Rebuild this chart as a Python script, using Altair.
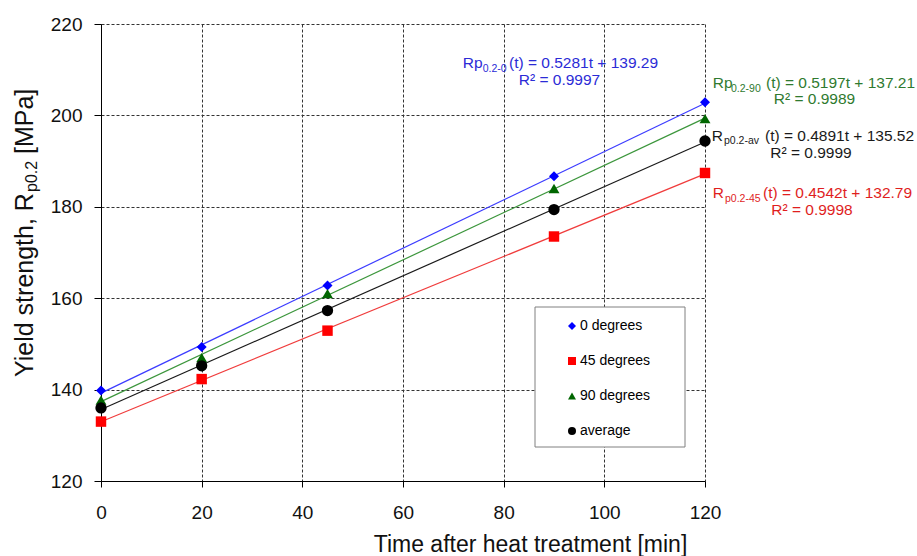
import altair as alt
import pandas as pd

# ---------------- data ----------------
times = [0, 20, 45, 90, 120]
series_names = ["0 degrees", "45 degrees", "90 degrees", "average"]
rp_0deg = [139.8, 149.3, 162.8, 186.7, 202.9]
rp_45deg = [133.0, 142.3, 152.9, 173.5, 187.4]
rp_90deg = [137.7, 147.0, 161.0, 184.0, 199.3]
rp_avg = [136.0, 145.2, 157.3, 179.4, 194.4]
x_ticks = [0, 20, 40, 60, 80, 100, 120]
y_ticks = [120, 140, 160, 180, 200, 220]

rows = []
for name, vals in zip(series_names, [rp_0deg, rp_45deg, rp_90deg, rp_avg]):
    for t, v in zip(times, vals):
        rows.append({"series": name, "marker": name, "trend": name, "t": t, "value": v})
df = pd.DataFrame(rows)

# ---------------- styles ----------------
FONT = "Liberation Sans, Arial, sans-serif"
marker_colors = ["#0000ff", "#ff0000", "#006600", "#000000"]
line_colors = ["#3c3cff", "#f03c3c", "#3c963c", "#1a1a1a"]
shapes = ["diamond", "square", "triangle-up", "circle"]
sizes = [100, 128, 150, 137]

xscale = alt.Scale(domain=[0, 120], nice=False, zero=False)
yscale = alt.Scale(domain=[120, 220], nice=False, zero=False)

x_axis = alt.Axis(
    values=x_ticks, title="Time after heat treatment [min]", grid=True,
    gridDash=[3, 2], gridColor="#333333", gridWidth=1,
    domainColor="#000000", tickColor="#000000", tickSize=6,
    labelFontSize=19, labelFont=FONT, labelColor="#111111", labelPadding=16,
    labelFlush=False,
    titleFontSize=23, titleFont=FONT, titleFontWeight="normal", titleColor="#111111",
    titleX=429, titleY=70, titleAlign="center", titleBaseline="alphabetic",
)
y_axis = alt.Axis(
    values=y_ticks, title=None, grid=True,
    gridDash=[3, 2], gridColor="#333333", gridWidth=1,
    domainColor="#000000", tickColor="#000000", tickSize=7,
    labelFontSize=19, labelFont=FONT, labelColor="#111111", labelPadding=12,
)

legend = alt.Legend(
    title=None, orient="none", legendX=464, legendY=295, padding=0,
    labelFontSize=14, labelFont=FONT, labelColor="#000000", labelOffset=1,
    rowPadding=21, symbolSize=64, symbolStrokeWidth=0, symbolOpacity=1,
)

one = pd.DataFrame({"k": [0]})

box = alt.Chart(one).mark_rect(fill="white", stroke="#808080", strokeWidth=1).encode(
    x=alt.value(434), x2=alt.value(584), y=alt.value(283), y2=alt.value(423)
)

# stroke / size scales take their (alphabetical) domain from the data so that
# their hidden legends do not merge with the visible colour/shape legend
lines = alt.Chart(df).transform_regression(
    "t", "value", groupby=["trend"]
).mark_line(strokeWidth=1.2).encode(
    x=alt.X("t:Q", scale=xscale, axis=x_axis),
    y=alt.Y("value:Q", scale=yscale, axis=y_axis),
    stroke=alt.Stroke("trend:N", scale=alt.Scale(range=line_colors), legend=None),
    detail="trend:N",
)

points = alt.Chart(df).mark_point(filled=True, opacity=1, strokeWidth=0).encode(
    x=alt.X("t:Q", scale=xscale),
    y=alt.Y("value:Q", scale=yscale),
    color=alt.Color("series:N", scale=alt.Scale(domain=series_names, range=marker_colors), legend=legend),
    shape=alt.Shape("series:N", scale=alt.Scale(domain=series_names, range=shapes), legend=legend),
    size=alt.Size("marker:N", scale=alt.Scale(range=sizes), legend=None),
)


def txt(text, x, y, size, color, align="left", angle=0):
    return alt.Chart(one).mark_text(
        text=text, align=align, baseline="alphabetic", fontSize=size,
        font=FONT, color=color, angle=angle,
    ).encode(x=alt.value(x), y=alt.value(y))


BLUE_T, GREEN_T, BLACK_T, RED_T = "#2b2bd6", "#2f7a2f", "#1a1a1a", "#e01e1e"
MAIN, SUB = 15.5, 10.5
texts = [
    # blue equation
    txt("Rp", 361.7, 44.3, MAIN, BLUE_T),
    txt("0.2-0", 381.7, 47.5, SUB, BLUE_T),
    txt("(t) = 0.5281t + 139.29", 408, 44.3, MAIN, BLUE_T),
    txt("R\u00b2 = 0.9997", 458.5, 61, MAIN, BLUE_T, align="center"),
    # green equation
    txt("Rp", 611.7, 64.3, MAIN, GREEN_T),
    txt("0.2-90", 630, 67.5, SUB, GREEN_T),
    txt("(t) = 0.5197t + 137.21", 665, 64.3, MAIN, GREEN_T),
    txt("R\u00b2 = 0.9989", 713.5, 80, MAIN, GREEN_T, align="center"),
    # black equation
    txt("R", 610.7, 117, MAIN, BLACK_T),
    txt("p0.2-av", 623, 120, SUB, BLACK_T),
    txt("(t) = 0.4891t + 135.52", 664, 117, MAIN, BLACK_T),
    txt("R\u00b2 = 0.9999", 710, 134.3, MAIN, BLACK_T, align="center"),
    # red equation
    txt("R", 611.7, 174.3, MAIN, RED_T),
    txt("p0.2-45", 624, 177.5, SUB, RED_T),
    txt("(t) = 0.4542t + 132.79", 662, 174.3, MAIN, RED_T),
    txt("R\u00b2 = 0.9998", 711, 191, MAIN, RED_T, align="center"),
    # y axis title with subscript
    txt("Yield strength, R", -68, 353, 25, "#111111", angle=270),
    txt("p0.2", -64, 168, 16, "#111111", angle=270),
    txt("[MPa]", -68, 130, 25, "#111111", angle=270),
]

chart = alt.layer(box, lines, points, *texts).properties(
    width=604, height=457,
    autosize=alt.AutoSizeParams(type="none"),
    padding={"left": 101, "top": 24, "right": 212, "bottom": 75},
    background="white",
).configure_view(stroke=None)

chart.save("out.html", embed_options={"renderer": "svg", "actions": False})
